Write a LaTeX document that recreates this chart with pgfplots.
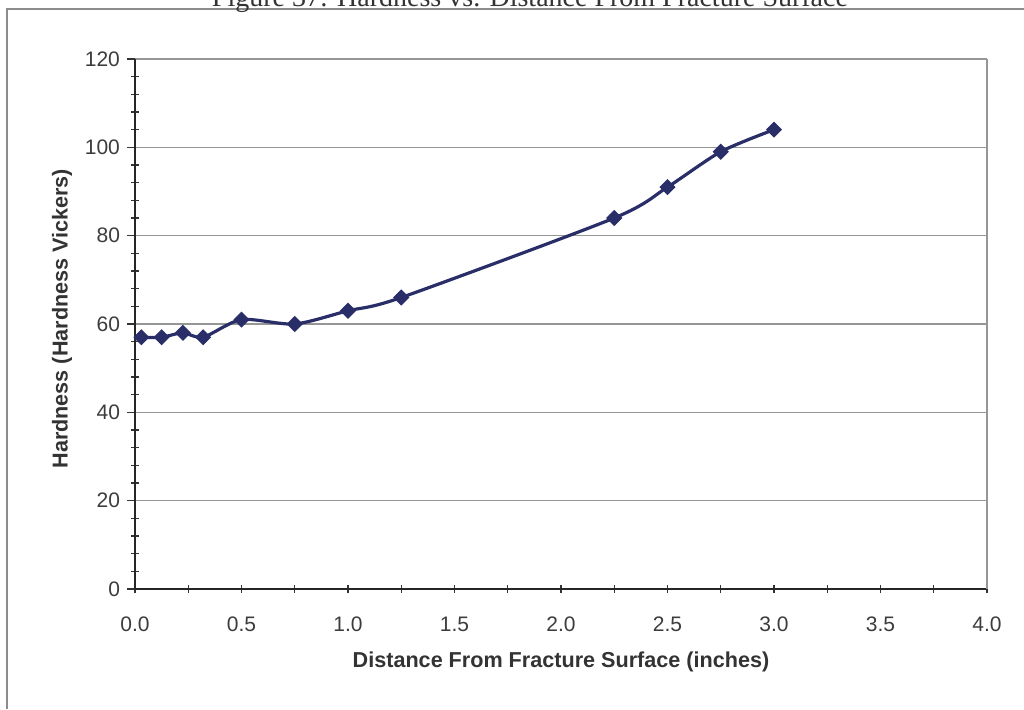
\documentclass[border=0pt]{standalone}
\usepackage{pgfplots}
\pgfplotsset{compat=1.18}
\usepackage{fontspec}
\setmainfont{Liberation Sans}
\newfontfamily\titlefont{Liberation Serif}
\definecolor{linenavy}{RGB}{42,46,104}
\definecolor{gridgray}{RGB}{150,150,150}
\definecolor{textgray}{RGB}{60,60,60}
\begin{document}
\begin{tikzpicture}[x=1pt,y=1pt]
\path[use as bounding box] (0,0) rectangle (512,354.5);
% outer frame of the scanned figure
\draw[line width=0.8pt, color=gray!90] (3.5,0) -- (3.5,350) -- (512,350);
\node[anchor=base, font=\titlefont\fontsize{14}{16}\selectfont, text=black!80] at (265,351.5) {Figure 37: Hardness vs. Distance From Fracture Surface};
\begin{axis}[
  at={(67.5pt,60pt)}, anchor=south west,
  scale only axis, width=426pt, height=265pt,
  xmin=0, xmax=4, ymin=0, ymax=120,
  axis lines*=left,
  axis line style={line width=0.8pt, color=black!85},
  xtick={0,0.5,...,4}, ytick={0,20,...,120},
  minor x tick num=1, minor y tick num=4,
  tick align=outside,
  major tick length=4pt, minor tick length=4pt,
  tick style={line width=0.6pt, color=black!80},
  minor x tick style={yshift=2pt},
  major x tick style={yshift=2pt},
  minor y tick style={xshift=2pt},
  ymajorgrids,
  grid style={line width=0.7pt, color=gridgray},
  xticklabel style={/pgf/number format/fixed, /pgf/number format/precision=1, /pgf/number format/fixed zerofill},
  /pgf/number format/assume math mode=true,
  ticklabel style={font=\fontsize{10.5}{12}\selectfont, text=textgray},
  xticklabel style={yshift=-5.5pt, text height=1.6ex, text depth=0.2ex},
  yticklabel style={xshift=0pt},
  xlabel={Distance From Fracture Surface (inches)},
  ylabel={Hardness (Hardness Vickers)},
  label style={font=\bfseries\fontsize{10.8}{12}\selectfont, text=black!80},
  xlabel style={at={(axis description cs:0.5,0)}, anchor=center, yshift=-36.5pt},
  ylabel style={at={(axis description cs:0,0.51)}, anchor=center, yshift=36.5pt},
  clip=false,
]
\draw[line width=0.7pt, color=gridgray] (rel axis cs:1,0) -- (rel axis cs:1,1);
\addplot[color=linenavy, line width=1.6pt, smooth, tension=0.45,
  mark=square*, mark size=2.6pt, mark options={rotate=45, fill=linenavy, draw=linenavy, line width=0.5pt}]
  coordinates {
  (0.03,57) (0.125,57) (0.225,58) (0.32,57) (0.5,61) (0.75,60) (1.0,63) (1.25,66)
  (2.25,84) (2.5,91) (2.75,99) (3.0,104)
  };
\end{axis}
\end{tikzpicture}
\end{document}
